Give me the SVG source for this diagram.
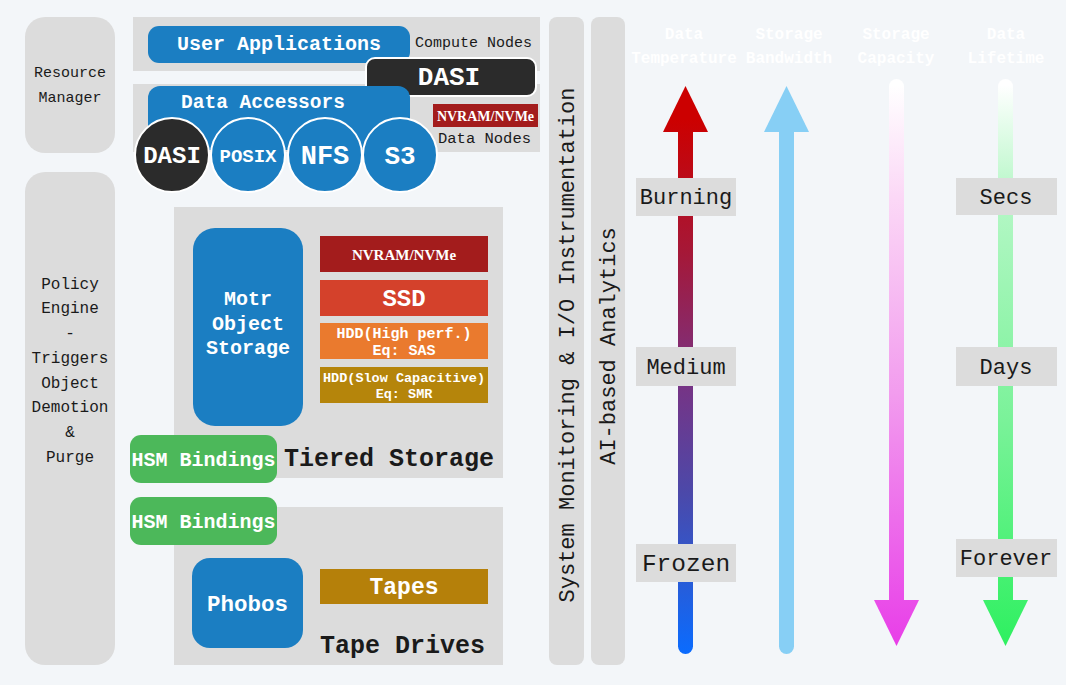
<svg xmlns="http://www.w3.org/2000/svg" width="1066" height="685" viewBox="0 0 1066 685">
<defs>
<style>
.bg{fill:#f3f6f9}
.gray{fill:#dcdcdc}
.blue{fill:#1b7ec2}
.green{fill:#4cb85a}
.m{font-family:"Liberation Mono","DejaVu Sans Mono",monospace}
.w{fill:#ffffff;font-weight:bold}
.k{fill:#1a1a1a}
.c{text-anchor:middle}
.lbl{fill:#dcdcdc}
.hdr{fill:#ffffff;font-family:"Liberation Mono",monospace;font-size:16px;font-weight:bold;text-anchor:middle}
</style>
<linearGradient id="gTemp" gradientUnits="userSpaceOnUse" x1="0" y1="120" x2="0" y2="655">
<stop offset="0" stop-color="#cc0000"/>
<stop offset="0.25" stop-color="#a51838"/>
<stop offset="0.48" stop-color="#7a3282"/>
<stop offset="0.7" stop-color="#4b49aa"/>
<stop offset="1" stop-color="#0a6cff"/>
</linearGradient>
<linearGradient id="gCap" gradientUnits="userSpaceOnUse" x1="0" y1="85" x2="0" y2="645">
<stop offset="0" stop-color="#ffffff"/>
<stop offset="0.2" stop-color="#fbd8f6"/>
<stop offset="0.55" stop-color="#f29cee"/>
<stop offset="1" stop-color="#e83ee8"/>
</linearGradient>
<linearGradient id="gLife" gradientUnits="userSpaceOnUse" x1="0" y1="85" x2="0" y2="645">
<stop offset="0" stop-color="#ffffff"/>
<stop offset="0.2" stop-color="#b5f7c6"/>
<stop offset="0.6" stop-color="#7af299"/>
<stop offset="1" stop-color="#2ef060"/>
</linearGradient>
</defs>
<rect class="bg" x="0" y="0" width="1066" height="685"/>

<g id="resource-manager">
<rect class="gray" x="25" y="17" width="90" height="136" rx="20"/>
<text class="m k c" font-size="15" x="70" y="77">Resource</text>
<text class="m k c" font-size="15" x="70" y="102">Manager</text>
</g>

<g id="policy-engine">
<rect class="gray" x="25" y="172" width="90" height="493" rx="20"/>
<g class="m k c" font-size="16">
<text x="70" y="289">Policy</text>
<text x="70" y="313">Engine</text>
<text x="70" y="338">-</text>
<text x="70" y="363">Triggers</text>
<text x="70" y="388">Object</text>
<text x="70" y="412">Demotion</text>
<text x="70" y="437">&amp;</text>
<text x="70" y="462">Purge</text>
</g>
</g>

<g id="compute-nodes">
<rect class="gray" x="133" y="17" width="407" height="54"/>
<text class="m k" font-size="15" x="415" y="47">Compute Nodes</text>
</g>
<g id="user-applications">
<rect class="blue" x="148" y="26" width="262" height="37" rx="11"/>
<text class="m w c" font-size="20" x="279" y="50">User Applications</text>
</g>

<g id="data-nodes">
<rect class="gray" x="133" y="84" width="407" height="68"/>
<text class="m k" font-size="15.5" x="438" y="143">Data Nodes</text>
</g>
<g id="nvram-datanode">
<rect fill="#a31c1c" x="433" y="104" width="105" height="23"/>
<text fill="#ffffff" font-family="Liberation Serif,serif" font-weight="bold" font-size="14" text-anchor="middle" x="485.5" y="120.5">NVRAM/NVMe</text>
</g>
<g id="dasi-box">
<rect fill="#2b2b2b" stroke="#ffffff" stroke-width="2" x="366" y="58" width="170" height="38" rx="9"/>
<text class="m w c" font-size="26" x="449" y="85">DASI</text>
</g>
<g id="data-accessors">
<rect class="blue" x="148" y="86" width="262" height="64" rx="12"/>
<text class="m w c" font-size="19.5" x="263" y="108">Data Accessors</text>
</g>
<g id="dasi-circle">
<circle fill="#2b2b2b" stroke="#ffffff" stroke-width="2" cx="172" cy="155" r="37"/>
<text class="m w c" font-size="24" x="172" y="163">DASI</text>
</g>
<g id="posix">
<circle class="blue" stroke="#ffffff" stroke-width="2" cx="248" cy="155" r="37"/>
<text class="m w c" font-size="19" x="248" y="162">POSIX</text>
</g>
<g id="nfs">
<circle class="blue" stroke="#ffffff" stroke-width="2" cx="325" cy="155" r="37"/>
<text class="m w c" font-size="27" x="325" y="164">NFS</text>
</g>
<g id="s3">
<circle class="blue" stroke="#ffffff" stroke-width="2" cx="400" cy="155" r="37"/>
<text class="m w c" font-size="26" x="400" y="164">S3</text>
</g>

<g id="tiered-storage">
<rect class="gray" x="174" y="207" width="329" height="271"/>
<text class="m k" font-weight="bold" font-size="25" x="284" y="466">Tiered Storage</text>
</g>
<g id="motr">
<rect class="blue" x="193" y="228" width="110" height="198" rx="22"/>
<text class="m w c" font-size="20" x="248" y="305">Motr</text>
<text class="m w c" font-size="20" x="248" y="330">Object</text>
<text class="m w c" font-size="20" x="248" y="354">Storage</text>
</g>
<g id="tier-nvram">
<rect fill="#a31c1c" x="320" y="236" width="168" height="36"/>
<text fill="#ffffff" font-family="Liberation Serif,serif" font-weight="bold" font-size="15" text-anchor="middle" x="404" y="260">NVRAM/NVMe</text>
</g>
<g id="tier-ssd">
<rect fill="#d4412b" x="320" y="280" width="168" height="36"/>
<text class="m w c" font-size="24" x="404" y="306">SSD</text>
</g>
<g id="tier-hdd-high">
<rect fill="#ea7a2e" x="320" y="323" width="168" height="36"/>
<text class="m w c" font-size="15" x="404" y="338">HDD(High perf.)</text>
<text class="m w c" font-size="15" x="404" y="355">Eq: SAS</text>
</g>
<g id="tier-hdd-slow">
<rect fill="#b5850b" x="320" y="367" width="168" height="36"/>
<text class="m w c" font-size="13.5" x="404" y="382">HDD(Slow Capacitive)</text>
<text class="m w c" font-size="13.5" x="404" y="398">Eq: SMR</text>
</g>
<g id="hsm-bindings-1">
<rect class="green" x="130" y="435" width="147" height="48" rx="11"/>
<text class="m w c" font-size="20" x="203.5" y="466">HSM Bindings</text>
</g>

<g id="tape-drives">
<rect class="gray" x="174" y="507" width="329" height="158"/>
<text class="m k" font-weight="bold" font-size="25" x="320" y="653">Tape Drives</text>
</g>
<g id="hsm-bindings-2">
<rect class="green" x="130" y="497" width="147" height="48" rx="11"/>
<text class="m w c" font-size="20" x="203.5" y="528">HSM Bindings</text>
</g>
<g id="phobos">
<rect class="blue" x="192" y="558" width="111" height="90" rx="18"/>
<text class="m w c" font-size="22.5" x="247.5" y="611">Phobos</text>
</g>
<g id="tapes">
<rect fill="#b5800a" x="320" y="569" width="168" height="35"/>
<text class="m w c" font-size="23" x="404" y="594">Tapes</text>
</g>

<g id="system-monitoring">
<rect class="gray" x="549" y="17" width="35" height="648" rx="8"/>
<text class="m k c" font-size="22" transform="translate(574 345) rotate(-90)" x="0" y="0">System Monitoring &amp; I/O Instrumentation</text>
</g>
<g id="ai-analytics">
<rect class="gray" x="591" y="17" width="34" height="648" rx="8"/>
<text class="m k c" font-size="22" transform="translate(615 346) rotate(-90)" x="0" y="0">AI-based Analytics</text>
</g>

<g id="headers">
<text class="hdr" x="684" y="39">Data</text>
<text class="hdr" x="684" y="63">Temperature</text>
<text class="hdr" x="789" y="39">Storage</text>
<text class="hdr" x="789" y="63">Bandwidth</text>
<text class="hdr" x="896" y="39">Storage</text>
<text class="hdr" x="896" y="63">Capacity</text>
<text class="hdr" x="1006" y="39">Data</text>
<text class="hdr" x="1006" y="63">Lifetime</text>
</g>

<g id="connectors">
<g id="arrow-temperature" fill="url(#gTemp)">
<rect x="678" y="120" width="15" height="534" rx="7.5"/>
<polygon points="685.5,86 708,132 663,132"/>
</g>
<g id="arrow-bandwidth" fill="#87cff5">
<rect x="779" y="120" width="15" height="534" rx="7.5"/>
<polygon points="786.5,86 809,132 764,132"/>
</g>
<g id="arrow-capacity" fill="url(#gCap)">
<rect x="889" y="79" width="15" height="530" rx="7.5"/>
<polygon points="874,600 919,600 896.5,646"/>
</g>
<g id="arrow-lifetime" fill="url(#gLife)">
<rect x="998" y="79" width="15" height="530" rx="7.5"/>
<polygon points="983,600 1028,600 1005.5,646"/>
</g>
</g>

<g id="label-burning">
<rect class="lbl" x="636" y="178" width="100" height="38"/>
<text class="m k c" font-size="22" x="686" y="204">Burning</text>
</g>
<g id="label-medium">
<rect class="lbl" x="636" y="347" width="100" height="39"/>
<text class="m k c" font-size="22" x="686" y="374">Medium</text>
</g>
<g id="label-frozen">
<rect class="lbl" x="636" y="544" width="100" height="38"/>
<text class="m k c" font-size="24.5" x="686" y="571">Frozen</text>
</g>
<g id="label-secs">
<rect class="lbl" x="956" y="178" width="101" height="37"/>
<text class="m k c" font-size="22" x="1006" y="204">Secs</text>
</g>
<g id="label-days">
<rect class="lbl" x="956" y="347" width="101" height="39"/>
<text class="m k c" font-size="22" x="1006" y="374">Days</text>
</g>
<g id="label-forever">
<rect class="lbl" x="956" y="539" width="101" height="38"/>
<text class="m k c" font-size="22" x="1006" y="565">Forever</text>
</g>
</svg>
